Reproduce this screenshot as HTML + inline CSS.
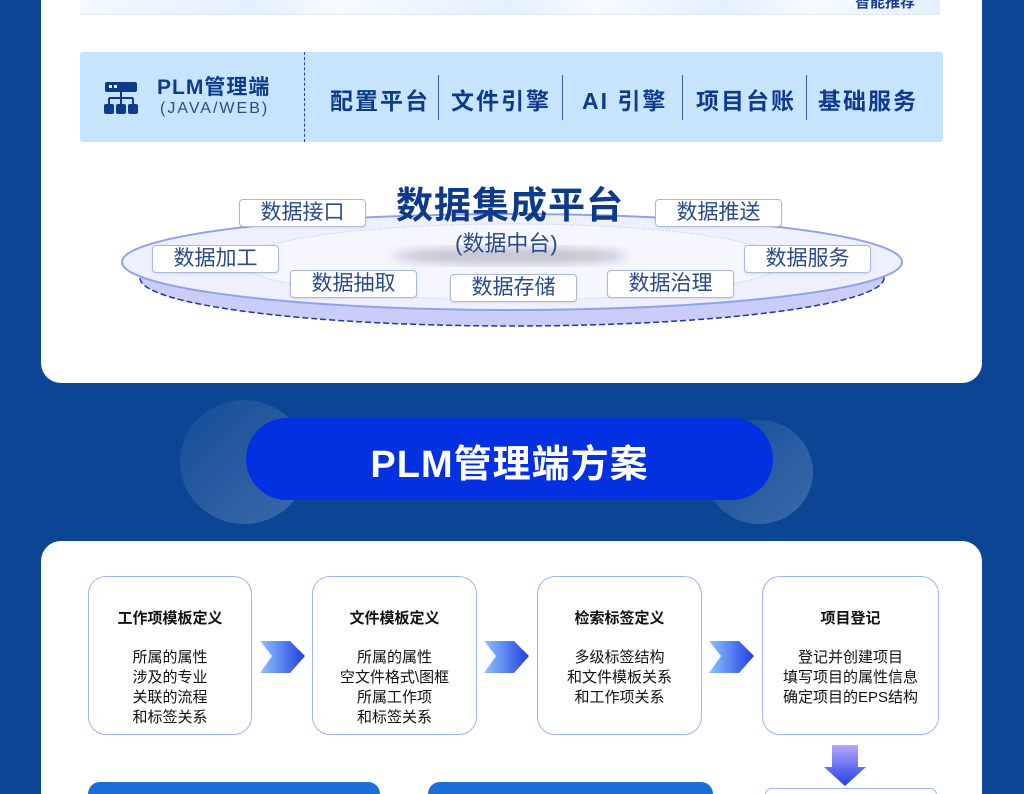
<!DOCTYPE html>
<html style="height:794px;overflow:hidden"><head><meta charset="utf-8"><style>
body{margin:0;width:1024px;height:794px;overflow:hidden;background:#0b4594;font-family:"Liberation Sans","Noto Sans CJK SC",sans-serif;position:relative}
.a{position:absolute}
.card{background:#fff;position:absolute}
.tag{position:absolute;background:#fff;border:1px solid #a9b8dc;border-radius:4px;color:#2a4a8a;font-size:21px;line-height:26px;text-align:center;width:125px;height:26px;box-shadow:0 1px 2px rgba(0,0,0,.1)}
.seg{position:absolute;top:75px;height:45px;border-left:1px solid #3a5fb0}
.mod{position:absolute;top:82px;font-size:23px;color:#0e3a8c;font-weight:bold;letter-spacing:2px}
.box{position:absolute;top:576px;height:157px;border:1px solid #9db4f0;border-radius:18px;background:#fff;text-align:center;color:#111}
.box b{display:block;font-size:15px;margin-top:30px;margin-bottom:20px}
.box div{font-size:15px;line-height:20px}
</style></head><body>
<div class="card" style="left:41px;top:-20px;width:941px;height:403px;border-radius:20px"></div>
<div class="a" style="left:80px;top:0;width:860px;height:14px;background:linear-gradient(90deg,#f4f9ff,#e4f0ff 20%,#f7fbff 30%,#e4f0ff 50%,#f7fbff 60%,#e4f0ff 75%,#f7fbff 85%,#e4f0ff);border-bottom:1px solid #e0e8f5"></div>
<div class="a" style="left:855px;top:-9px;font-size:15px;font-weight:bold;color:#1a3d9a">智能推荐</div>
<div class="a" style="left:80px;top:52px;width:863px;height:90px;background:#c7e4fd;border-radius:3px"></div>
<div class="a" style="left:304px;top:52px;height:90px;border-left:1px dashed #2340b0"></div>
<svg class="a" style="left:103px;top:80px" width="36" height="36" viewBox="0 0 36 36"><rect x="2" y="2" width="32" height="10" rx="2" fill="#0e3a8c"/><rect x="6" y="5" width="3" height="3" fill="#fff"/><rect x="11" y="5" width="3" height="3" fill="#fff"/><path d="M18 12v6M6 18h24M6 18v6M18 18v6M30 18v6" stroke="#0e3a8c" stroke-width="2"/><rect x="1" y="24" width="10" height="10" rx="2" fill="#0e3a8c"/><rect x="13" y="24" width="10" height="10" rx="2" fill="#0e3a8c"/><rect x="25" y="24" width="10" height="10" rx="2" fill="#0e3a8c"/></svg>
<div class="a" style="left:157px;top:71px;font-size:21px;font-weight:bold;color:#0e3a8c;letter-spacing:1px">PLM管理端</div>
<div class="a" style="left:160px;top:100px;font-size:16px;color:#2a4a8a;letter-spacing:2px">(JAVA/WEB)</div>
<div class="mod" style="left:330px">配置平台</div>
<div class="seg" style="left:438px"></div>
<div class="mod" style="left:451px">文件引擎</div>
<div class="seg" style="left:562px"></div>
<div class="mod" style="left:582px">AI 引擎</div>
<div class="seg" style="left:682px"></div>
<div class="mod" style="left:696px">项目台账</div>
<div class="seg" style="left:806px"></div>
<div class="mod" style="left:818px">基础服务</div>
<svg class="a" style="left:110px;top:200px" width="800" height="140" viewBox="110 200 800 140">
<defs><filter id="b"><feGaussianBlur stdDeviation="5"/></filter></defs>
<ellipse cx="512" cy="278" rx="372" ry="48" fill="#c9cdf7" stroke="#2335a0" stroke-width="1.5" stroke-dasharray="6 3"/>
<ellipse cx="512" cy="262" rx="390" ry="48" fill="#eef1fd" stroke="#8fa2e6" stroke-width="2"/>
<ellipse cx="512" cy="262" rx="270" ry="38" fill="#f6f7fe" stroke="#b3bee0" stroke-dasharray="1 2"/>
<ellipse cx="510" cy="256" rx="118" ry="9" fill="#9a9cb0" opacity=".55" filter="url(#b)"/>
</svg>
<div class="a" style="left:396px;top:184px;font-size:37px;font-weight:bold;color:#0e3a8c;letter-spacing:1px;line-height:44px">数据集成平台</div>
<div class="a" style="left:455px;top:226px;font-size:22px;color:#2a4a8a">(数据中台)</div>
<div class="tag" style="left:239px;top:199px">数据接口</div>
<div class="tag" style="left:655px;top:199px">数据推送</div>
<div class="tag" style="left:152px;top:245px">数据加工</div>
<div class="tag" style="left:744px;top:245px">数据服务</div>
<div class="tag" style="left:290px;top:270px">数据抽取</div>
<div class="tag" style="left:450px;top:274px">数据存储</div>
<div class="tag" style="left:607px;top:270px">数据治理</div>
<div class="a" style="left:180px;top:400px;width:128px;height:124px;border-radius:50%;background:linear-gradient(135deg,rgba(255,255,255,.04),rgba(255,255,255,.2))"></div>
<div class="a" style="left:705px;top:420px;width:108px;height:104px;border-radius:50%;background:linear-gradient(135deg,rgba(255,255,255,.04),rgba(255,255,255,.2))"></div>
<div class="a" style="left:246px;top:418px;width:527px;height:82px;border-radius:41px;background:#0330e0"></div>
<div class="a" style="left:246px;top:440px;width:527px;text-align:center;font-size:38px;font-weight:bold;color:#fff;letter-spacing:1px;line-height:50px">PLM管理端方案</div>
<div class="card" style="left:41px;top:541px;width:941px;height:253px;border-radius:20px 20px 0 0"></div>
<div class="box" style="left:88px;width:162px"><b>工作项模板定义</b><div>所属的属性<br>涉及的专业<br>关联的流程<br>和标签关系</div></div>
<div class="box" style="left:312px;width:163px"><b>文件模板定义</b><div>所属的属性<br>空文件格式\图框<br>所属工作项<br>和标签关系</div></div>
<div class="box" style="left:537px;width:163px"><b>检索标签定义</b><div>多级标签结构<br>和文件模板关系<br>和工作项关系</div></div>
<div class="box" style="left:762px;width:175px"><b>项目登记</b><div>登记并创建项目<br>填写项目的属性信息<br>确定项目的EPS结构</div></div>
<svg class="a" style="left:0;top:0" width="1024" height="794">
<defs><linearGradient id="g" x1="0" x2="1"><stop offset="0" stop-color="#8fc3ff"/><stop offset="1" stop-color="#1f3fe0"/></linearGradient>
<linearGradient id="gv" x1="0" y1="0" x2="0" y2="1"><stop offset="0" stop-color="#b8a8ff"/><stop offset="1" stop-color="#1f3fe0"/></linearGradient></defs>
<polygon points="260,641 290,641 305,656 290,673 260,673 272,656" fill="url(#g)"/>
<polygon points="484,641 514,641 529,656 514,673 484,673 496,656" fill="url(#g)"/>
<polygon points="709,641 739,641 754,656 739,673 709,673 721,656" fill="url(#g)"/>
<polygon points="832,745 858,745 858,767 866,767 845,786 824,767 832,767" fill="url(#gv)"/>
</svg>
<div class="a" style="left:88px;top:782px;width:292px;height:12px;border-radius:20px 20px 0 0;background:#1a6fd8"></div>
<div class="a" style="left:428px;top:782px;width:285px;height:12px;border-radius:20px 20px 0 0;background:#1a6fd8"></div>
<div class="a" style="left:765px;top:788px;width:170px;height:6px;border-radius:18px 18px 0 0;border:1px solid #9db4f0;border-bottom:none;background:#fff"></div>
</body></html>
